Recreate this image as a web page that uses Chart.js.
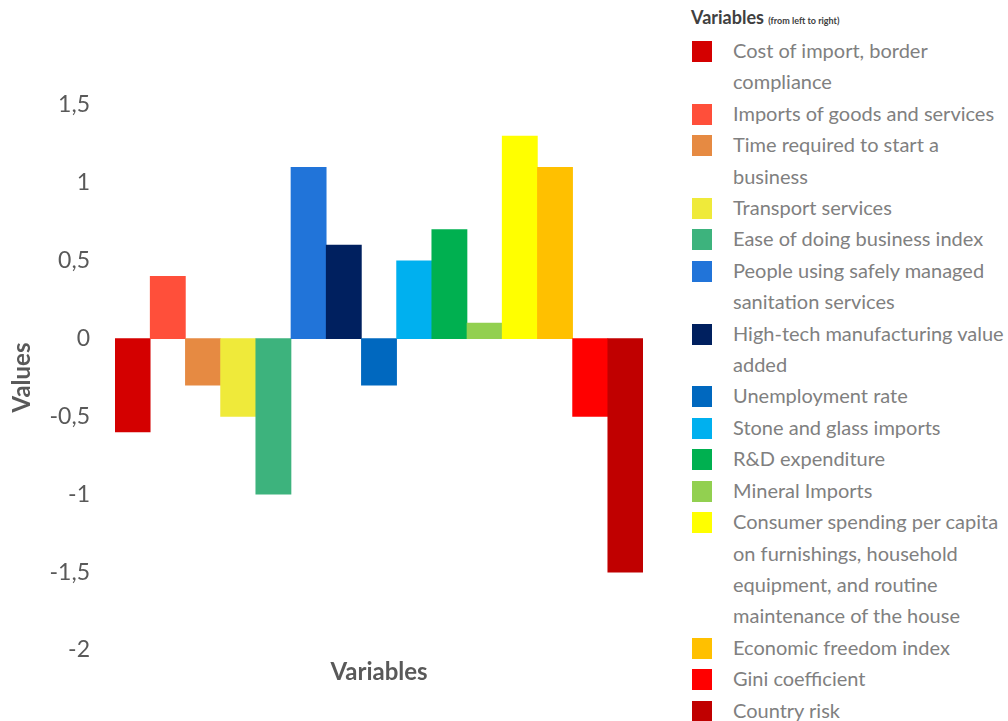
<!DOCTYPE html>
<html>
<head>
<meta charset="utf-8">
<script src="https://cdn.jsdelivr.net/npm/chart.js@4/dist/chart.umd.min.js"></script>
<style>
  body { margin: 0; background: #fff; font-family: Lato, "Open Sans", sans-serif; }
  #wrap { position: relative; width: 1008px; height: 721px; overflow: hidden; }
  #chartBox { position: absolute; left: 0; top: 0; width: 680px; height: 721px; }
  #legend { position: absolute; left: 690px; top: 3px; width: 318px; }
  #legend .title { font-weight: bold; font-size: 18px; color: #404040; line-height: 28px; margin-left: 1px; }
  #legend .title small { font-size: 9px; font-weight: bold; }
  #legend ul { list-style: none; margin: 0; padding: 0; }
  #legend li { position: relative; padding-left: 43px; font-size: 20px; line-height: 31.4px; color: #808080; width: 276px; }
  #legend li span { position: absolute; left: 2px; top: 6px; width: 20px; height: 21px; }
</style>
</head>
<body>
<div id="wrap">
  <div id="chartBox"><canvas id="chartInfo" width="680" height="721"></canvas></div>
  <div id="legend">
    <div class="title">Variables <small>(from left to right)</small></div>
    <ul id="legendList"></ul>
  </div>
</div>
<script>
//data
var variables = [
    "Cost of import, border compliance",
    "Imports of goods and services",
    "Time required to start a business",
    "Transport services",
    "Ease of doing business index",
    "People using safely managed sanitation services",
    "High-tech manufacturing value added",
    "Unemployment rate",
    "Stone and glass imports",
    "R&D expenditure",
    "Mineral Imports",
    "Consumer spending per capita on furnishings, household equipment, and routine maintenance of the house",
    "Economic freedom index",
    "Gini coefficient",
    "Country risk"
]
var values = [-0.6, 0.4, -0.3, -0.5, -1.0, 1.1, 0.6, -0.3, 0.5, 0.7, 0.1, 1.3, 1.1, -0.5, -1.5]
var colours = ["#D40000", "#FF4F3A", "#E68A42", "#EFEA3A", "#3DB37D", "#2174D9", "#00205F", "#0068BF",
    "#00B0EF", "#00B050", "#92D050", "#FFFF00", "#FFC000", "#FF0000", "#C00000"]
var yTicks = [-2, -1.5, -1, -0.5, 0, 0.5, 1, 1.5]

//legend on the right, built from the same arrays
var list = document.getElementById("legendList")
for (var i = 0; i < variables.length; i++) {
    var li = document.createElement("li")
    var box = document.createElement("span")
    box.style.background = colours[i]
    li.appendChild(box)
    li.appendChild(document.createTextNode(variables[i]))
    list.appendChild(li)
}

//chart
var ctx = document.getElementById("chartInfo").getContext('2d')
var myChart = new Chart(ctx, {
    type: 'bar',
    data: {
        labels: variables,
        datasets: [{
            data: values,
            backgroundColor: colours,
            borderWidth: 0,
            categoryPercentage: 1,
            barPercentage: 1
        }]
    },
    options: {
        responsive: false,
        animation: false,
        layout: { padding: { left: 0, right: 37, top: 105, bottom: 34.6 } },
        plugins: { legend: { display: false }, tooltip: { enabled: false } },
        scales: {
            x: {
                grid: { display: false, drawTicks: false },
                border: { display: false },
                ticks: { display: false },
                title: {
                    display: true,
                    text: 'Variables',
                    color: '#595959',
                    font: { family: 'Lato', size: 24, weight: 'bold' },
                    padding: { top: 7.6, bottom: 0 }
                }
            },
            y: {
                min: -2,
                max: 1.5,
                afterFit: function (scale) { scale.width = 115 },
                afterBuildTicks: function (scale) {
                    scale.ticks = yTicks.map(function (v) { return { value: v } })
                },
                grid: { display: false, drawTicks: false },
                border: { display: false },
                ticks: {
                    padding: 25,
                    color: '#595959',
                    font: { family: 'Lato', size: 23 },
                    callback: function (v) { return String(v).replace('.', ',') }
                },
                title: {
                    display: true,
                    text: 'Values',
                    color: '#595959',
                    font: { family: 'Lato', size: 24, weight: 'bold' },
                    padding: { top: 7.6, bottom: 0 }
                }
            }
        }
    }
})
</script>
</body>
</html>
